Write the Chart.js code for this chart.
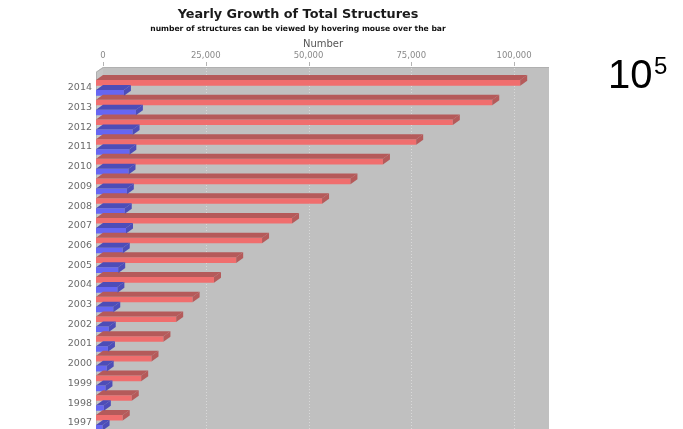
<!DOCTYPE html>
<html><head><meta charset="utf-8">
<script src="https://cdn.jsdelivr.net/npm/chart.js@4.4.1/dist/chart.umd.min.js"></script>
<style>html,body{margin:0;padding:0;overflow:hidden;background:#fff;width:683px;height:429px}</style>
</head><body>
<canvas id="c" width="683" height="445" style="display:block;width:683px;height:445px"></canvas>
<script>
const years = ['2014','2013','2012','2011','2010','2009','2008','2007','2006','2005','2004','2003','2002','2001','2000','1999','1998','1997'];
const totalStructures = [103200, 96400, 86800, 77900, 69800, 61900, 55000, 47700, 40400, 34100, 28700, 23500, 19500, 16400, 13500, 11000, 8700, 6500];
const yearlyStructures = [6800, 9700, 8900, 8100, 7900, 7500, 7000, 7300, 6500, 5400, 5200, 4200, 3100, 2900, 2600, 2300, 1900, 1600];
const xTickValues = [0, 25000, 50000, 75000, 100000];
const xMax = 108500;
const chartTitle = 'Yearly Growth of Total Structures';
const chartSubtitle = 'number of structures can be viewed by hovering mouse over the bar';
const axisTitle = 'Number';
const noteBase = '10';
const noteExp = '5';

const DX = 7, DY = 5;
const RED_FRONT = '#f06e6e', RED_DARK = '#b55a5a';
const BLUE_FRONT = '#6666f2', BLUE_DARK = '#4d4db8';
const FAMILY = '"DejaVu Sans", sans-serif';

function poly(ctx, pts){ ctx.beginPath(); ctx.moveTo(pts[0][0], pts[0][1]); for (let i=1;i<pts.length;i++) ctx.lineTo(pts[i][0], pts[i][1]); ctx.closePath(); ctx.fill(); }
function fitSize(ctx, text, weight, targetW){ ctx.font = weight + ' 10px ' + FAMILY; return 10 * targetW / ctx.measureText(text).width; }

const plugin3d = {
  id: 'plot3d',
  beforeDatasetsDraw(chart){
    const {ctx, chartArea: a, scales: {x}} = chart;
    const frontTop = a.top - 6, backTop = frontTop - DY;
    const bottom = chart.height;
    ctx.save();
    ctx.fillStyle = '#c0c0c0';
    poly(ctx, [[a.left, frontTop],[a.left+DX, backTop],[a.right+DX, backTop],[a.right+DX, bottom],[a.left, bottom]]);
    ctx.fillStyle = '#c5c5c5';
    poly(ctx, [[a.left, frontTop],[a.left+DX, backTop],[a.left+DX, bottom],[a.left, bottom]]);
    ctx.strokeStyle = '#b0b0b0'; ctx.lineWidth = 1;
    ctx.beginPath();
    ctx.moveTo(a.left+0.5, bottom); ctx.lineTo(a.left+0.5, frontTop); ctx.lineTo(a.left+DX+0.5, backTop+0.5); ctx.lineTo(a.right+DX, backTop+0.5);
    ctx.stroke();
    ctx.strokeStyle = 'rgba(222,222,222,0.8)'; ctx.setLineDash([1,2]);
    xTickValues.forEach(v => {
      if (v === 0) return;
      const px = Math.round(x.getPixelForValue(v) + DX) + 0.5;
      ctx.beginPath(); ctx.moveTo(px, backTop+1); ctx.lineTo(px, bottom); ctx.stroke();
    });
    ctx.setLineDash([]); ctx.strokeStyle = '#b4b4b4';
    xTickValues.forEach(v => {
      const px = Math.round(x.getPixelForValue(v) + DX) + 0.5;
      ctx.beginPath(); ctx.moveTo(px, backTop-5); ctx.lineTo(px, backTop-1); ctx.stroke();
    });
    ctx.restore();
  },
  afterDatasetsDraw(chart){
    const ctx = chart.ctx;
    ctx.save();
    chart.data.datasets.forEach((ds, i) => {
      const dark = i === 0 ? RED_DARK : BLUE_DARK;
      chart.getDatasetMeta(i).data.forEach(bar => {
        const {x, y, base, height} = bar.getProps(['x','y','base','height'], true);
        const t = y - height/2, b = y + height/2;
        ctx.fillStyle = dark;
        poly(ctx, [[base, t],[x, t],[x+DX, t-DY],[base+DX, t-DY]]);
        poly(ctx, [[x, t],[x, b],[x+DX, b-DY],[x+DX, t-DY]]);
      });
    });
    ctx.restore();
  },
  afterDraw(chart){
    const ctx = chart.ctx;
    ctx.save();
    ctx.textAlign = 'center'; ctx.textBaseline = 'alphabetic';
    let s = fitSize(ctx, chartTitle, 'bold', 241);
    ctx.font = 'bold ' + s + 'px ' + FAMILY; ctx.fillStyle = '#1a1a1a';
    ctx.fillText(chartTitle, 298, 17.5);
    s = fitSize(ctx, chartSubtitle, 'bold', 296);
    ctx.font = 'bold ' + s + 'px ' + FAMILY; ctx.fillStyle = '#111';
    ctx.fillText(chartSubtitle, 298, 31);
    ctx.font = '10px ' + FAMILY; ctx.fillStyle = '#555';
    ctx.fillText(axisTitle, 323, 47);
    ctx.textAlign = 'left'; ctx.fillStyle = '#000';
    ctx.font = '40px "Liberation Sans", sans-serif';
    ctx.fillText(noteBase, 608, 88);
    ctx.font = '24px "Liberation Sans", sans-serif';
    ctx.fillText(noteExp, 654, 74);
    ctx.restore();
  }
};

new Chart(document.getElementById('c'), {
  type: 'bar',
  data: {
    labels: years,
    datasets: [
      { label: 'Total', data: totalStructures, backgroundColor: RED_FRONT, borderWidth: 0, categoryPercentage: 1.015, barPercentage: 0.56 },
      { label: 'Yearly', data: yearlyStructures, backgroundColor: BLUE_FRONT, borderWidth: 0, categoryPercentage: 1.015, barPercentage: 0.56 }
    ]
  },
  options: {
    indexAxis: 'y',
    responsive: false,
    animation: false,
    events: [],
    layout: { padding: { left: 0, right: 141, top: 0, bottom: 12.4 } },
    plugins: { legend: { display: false }, tooltip: { enabled: false }, title: { display: false } },
    scales: {
      x: {
        position: 'top', min: 0, max: xMax,
        afterBuildTicks(scale){ scale.ticks = xTickValues.map(v => ({ value: v })); },
        afterFit(scale){ scale.height = 78; },
        grid: { display: false, drawTicks: false },
        border: { display: false },
        ticks: { padding: 17, labelOffset: DX, maxRotation: 0, color: '#8a8a8a', font: { family: FAMILY, size: 8.5 },
                 callback: v => v.toLocaleString('en-US') }
      },
      y: {
        afterFit(scale){ scale.width = 96; },
        grid: { display: false, drawTicks: false },
        border: { display: false },
        ticks: { padding: 4, color: '#6a6a6a', font: { family: FAMILY, size: 9.5 } }
      }
    }
  },
  plugins: [plugin3d]
});
</script>
</body></html>
